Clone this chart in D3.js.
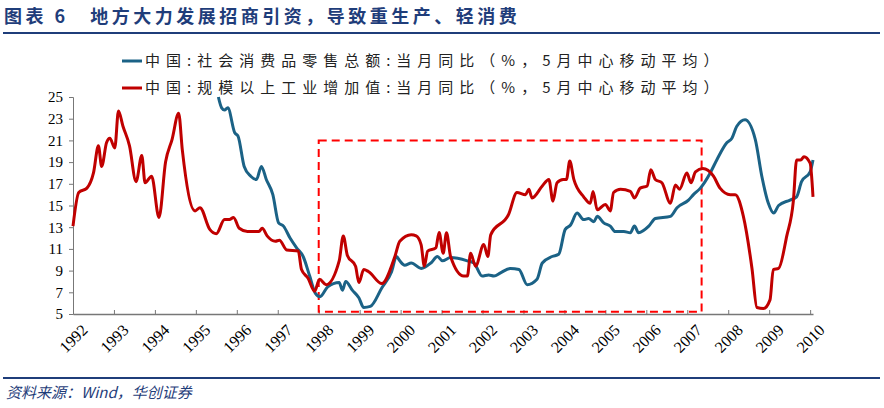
<!DOCTYPE html>
<html><head><meta charset="utf-8">
<script src="https://cdn.jsdelivr.net/npm/d3@7"></script>
<style>body{margin:0;background:#fff}</style>
</head><body><div id="chart"></div>
<script>
const seriesNames = ["中国:社会消费品零售总额:当月同比（%，5月中心移动平均）", "中国:规模以上工业增加值:当月同比（%，5月中心移动平均）"];
const retail = [[1995.55,25],[1995.63,24],[1995.7,23.8],[1995.78,24],[1995.95,21.7],[1996.03,21.4],[1996.18,18.6],[1996.34,17.7],[1996.48,17.4],[1996.6,18.6],[1996.72,17.4],[1996.88,16],[1997.02,13.4],[1997.14,13.1],[1997.3,12],[1997.46,11.1],[1997.62,10.3],[1997.78,8.5],[1997.92,6.9],[1998.03,6.6],[1998.22,7.5],[1998.5,7.9],[1998.58,7.2],[1998.66,8],[1998.82,7.2],[1998.98,6.5],[1999.1,5.6],[1999.26,5.7],[1999.54,7.4],[1999.78,8.9],[1999.9,10.3],[1999.98,9.9],[2000.1,9.5],[2000.26,9.7],[2000.5,9.2],[2000.74,9.7],[2000.9,10.3],[2001.02,9.9],[2001.22,10.2],[2001.63,9.9],[2001.79,9.7],[2001.99,8.5],[2002.15,8.6],[2002.28,8.5],[2002.44,8.8],[2002.68,9.2],[2002.89,9.1],[2003.09,7.7],[2003.33,8.2],[2003.46,9.7],[2003.7,10.3],[2003.86,10.5],[2004.02,12.8],[2004.15,13.2],[2004.31,14.3],[2004.47,13.7],[2004.59,13.8],[2004.72,13.5],[2004.8,14],[2004.96,13.4],[2005.12,13.1],[2005.24,12.6],[2005.45,12.6],[2005.61,12.5],[2005.71,13.1],[2005.81,12.5],[2006.06,13.1],[2006.22,13.8],[2006.59,14],[2006.75,14.8],[2007.03,15.5],[2007.15,16],[2007.32,16.6],[2007.56,18],[2007.72,19.2],[2007.97,20.8],[2008.09,21.2],[2008.21,22.3],[2008.41,22.9],[2008.66,21.1],[2008.82,17.7],[2008.98,15.2],[2009.11,14.3],[2009.23,15],[2009.51,15.5],[2009.67,15.8],[2009.79,17.2],[2010,18.1],[2010.07,19.2]];
const industry = [[1992,13.1],[1992.14,16.2],[1992.34,16.6],[1992.5,18],[1992.62,20.5],[1992.7,18.6],[1992.82,20.8],[1992.9,21.2],[1993.02,20.3],[1993.11,23.7],[1993.22,22.3],[1993.38,20.5],[1993.54,17.2],[1993.68,19.6],[1993.76,17.1],[1993.92,17.7],[1994.1,13.9],[1994.26,19],[1994.42,21.1],[1994.58,23.5],[1994.67,20.1],[1994.98,14.5],[1995.1,14.8],[1995.34,12.8],[1995.5,12.4],[1995.7,13.7],[1995.82,13.7],[1995.92,13.9],[1996.06,12.9],[1996.26,12.6],[1996.54,12.6],[1996.62,12.9],[1996.74,12.2],[1996.94,11.7],[1997.04,11.8],[1997.22,10.9],[1997.5,10.8],[1997.58,9.1],[1997.74,8.3],[1997.9,7.1],[1998.02,8.2],[1998.18,7.7],[1998.5,9.9],[1998.6,12.2],[1998.7,10.4],[1998.9,9.4],[1998.98,7.9],[1999.1,9.1],[1999.22,8.9],[1999.54,7.8],[1999.86,10.3],[1999.98,11.7],[2000.26,12.3],[2000.38,12.2],[2000.5,11.4],[2000.58,9.4],[2000.66,10.8],[2000.86,11.1],[2000.94,12.5],[2001.04,10.6],[2001.12,12.5],[2001.22,10.3],[2001.54,8.5],[2001.63,8.5],[2001.71,10.6],[2001.83,9.4],[2002.03,11.4],[2002.13,10.3],[2002.2,12.3],[2002.64,14.2],[2002.84,16.2],[2003.05,16],[2003.13,16.5],[2003.21,15.7],[2003.46,16.8],[2003.62,17.4],[2003.72,15.4],[2003.82,17.1],[2003.97,17.4],[2004.05,17.4],[2004.13,19.1],[2004.23,17.4],[2004.47,15.8],[2004.63,15.2],[2004.7,16.3],[2004.8,14.6],[2005,15.1],[2005.12,14.5],[2005.2,16.2],[2005.37,16.5],[2005.61,16.3],[2005.71,15.7],[2005.85,16.6],[2006.02,16.8],[2006.11,18.3],[2006.22,17.4],[2006.38,17.1],[2006.59,15.2],[2006.71,16.9],[2006.81,16.5],[2006.99,18],[2007.09,17.1],[2007.2,18.1],[2007.38,18.4],[2007.64,17.7],[2007.8,16.6],[2008.05,16],[2008.17,16],[2008.37,14],[2008.58,9.2],[2008.7,5.6],[2008.86,5.5],[2009.02,6.3],[2009.1,9.1],[2009.23,9.2],[2009.43,12.2],[2009.59,15.4],[2009.67,19.2],[2009.77,19.2],[2009.85,19.5],[2010,18.9],[2010.07,15.8]];
const years = d3.range(1992, 2011);
const yTicks = d3.range(5, 26, 2);
const box = {x0: 1998, x1: 2007.35, y0: 5.2, y1: 21};

const width = 884, height = 408;
const svg = d3.select("#chart").append("svg").attr("width", width).attr("height", height);

// title + rules
svg.append("text").attr("x", 4).attr("y", 23)
  .attr("font-family", "Noto Sans CJK SC").attr("font-weight", 700).attr("font-size", 18)
  .attr("letter-spacing", 3.5)
  .attr("fill", "#1f3d7a").text("图表 6　地方大力发展招商引资，导致重生产、轻消费");
svg.append("line").attr("x1", 3).attr("x2", 880).attr("y1", 33).attr("y2", 33)
  .attr("stroke", "#1f3d7a").attr("stroke-width", 2);
svg.append("line").attr("x1", 3).attr("x2", 880).attr("y1", 378).attr("y2", 378)
  .attr("stroke", "#1f3d7a").attr("stroke-width", 2);
svg.append("text").attr("x", 6).attr("y", 398)
  .attr("font-family", "Noto Sans CJK SC").attr("font-style", "italic").attr("font-size", 15)
  .attr("fill", "#1f3d7a").text("资料来源：Wind，华创证券");

const x = d3.scaleLinear().domain([1992, 2010.07]).range([73, 813]);
const y = d3.scaleLinear().domain([5, 25]).range([314, 97]);

// axes
svg.append("g").attr("transform", "translate(73,0)")
  .call(d3.axisLeft(y).tickValues(yTicks).tickSize(4).tickPadding(6))
  .call(g => g.select(".domain").attr("stroke", "#777"))
  .call(g => g.selectAll("line").attr("stroke", "#777"))
  .call(g => g.selectAll("text").attr("font-family", "Liberation Serif").attr("font-size", 15).attr("fill", "#000"));

svg.append("g").attr("transform", "translate(0,314)")
  .call(d3.axisBottom(x).tickValues(years).tickFormat(d3.format("d")).tickSize(-4).tickSizeOuter(0))
  .call(g => g.select(".domain").attr("stroke", "#777").attr("stroke-width", 1.5))
  .call(g => g.selectAll("line").attr("stroke", "#777"))
  .call(g => g.selectAll("text")
    .attr("font-family", "Liberation Serif").attr("font-size", 16).attr("fill", "#000")
    .attr("text-anchor", "end").attr("dy", 0).attr("dx", 0)
    .attr("transform", "translate(13,15) rotate(-45)"));

// box
svg.append("rect")
  .attr("x", x(box.x0)).attr("y", y(box.y1))
  .attr("width", x(box.x1) - x(box.x0)).attr("height", y(box.y0) - y(box.y1))
  .attr("fill", "none").attr("stroke", "#f00").attr("stroke-width", 2).attr("stroke-dasharray", "8,5");

const line = d3.line().x(d => x(d[0])).y(d => y(d[1])).curve(d3.curveMonotoneX);
const colors = ["#1b6286", "#c00000"];
svg.append("path").datum(retail).attr("d", line).attr("fill", "none")
  .attr("stroke", colors[0]).attr("stroke-width", 3);
svg.append("path").datum(industry).attr("d", line).attr("fill", "none")
  .attr("stroke", colors[1]).attr("stroke-width", 3);

// legend
seriesNames.forEach((name, i) => {
  const ly = 61 + i * 27;
  svg.append("line").attr("x1", 122).attr("x2", 142).attr("y1", ly).attr("y2", ly)
    .attr("stroke", colors[i]).attr("stroke-width", 3);
  svg.append("text").attr("x", 145).attr("y", ly + 5)
    .attr("font-family", "Noto Sans CJK SC").attr("font-size", 15).attr("fill", "#222")
    .attr("letter-spacing", 6).text(name);
});
</script></body></html>
